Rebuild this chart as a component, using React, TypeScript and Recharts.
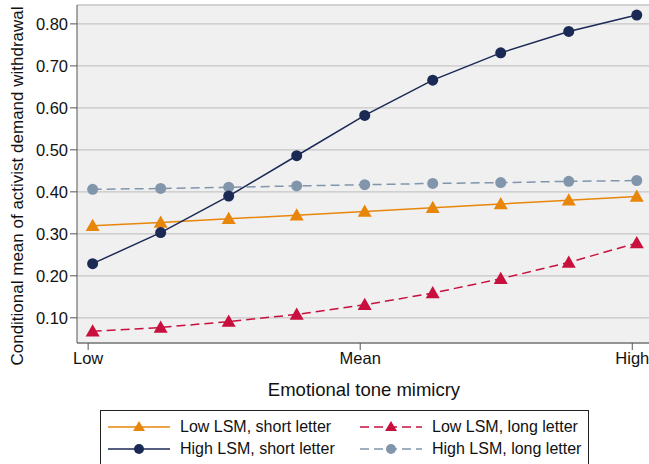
import React from 'react';
import { LineChart, Line, XAxis, YAxis, CartesianGrid } from 'recharts';

// x positions of the nine margin points (Low .. High)
const X_POS = [0, 1, 2, 3, 4, 5, 6, 7, 8];

const LOW_SHORT = [0.319, 0.327, 0.336, 0.344, 0.353, 0.362, 0.371, 0.38, 0.389];
const HIGH_SHORT = [0.229, 0.303, 0.39, 0.486, 0.582, 0.666, 0.731, 0.782, 0.821];
const LOW_LONG = [0.068, 0.077, 0.091, 0.108, 0.131, 0.159, 0.193, 0.232, 0.278];
const HIGH_LONG = [0.406, 0.408, 0.411, 0.414, 0.417, 0.42, 0.422, 0.425, 0.427];

const X_TICKS = [-0.066, 3.934, 7.934];
const X_TICK_LABELS = ['Low', 'Mean', 'High'];
const Y_TICKS = [0.1, 0.2, 0.3, 0.4, 0.5, 0.6, 0.7, 0.8];

const ORANGE = '#e8860c';
const NAVY = '#1b2a55';
const CRIMSON = '#c8103e';
const STEEL = '#8195ab';

const FONT = '"Liberation Sans", Arial, sans-serif';

const data = X_POS.map((x, i) => ({
  x,
  lowShort: LOW_SHORT[i],
  highShort: HIGH_SHORT[i],
  lowLong: LOW_LONG[i],
  highLong: HIGH_LONG[i],
}));

const triangleDot = (color: string) => (props: any) => {
  const { cx, cy, index } = props;
  if (cx == null || cy == null) return <g key={index} />;
  const s = 7;
  return (
    <path
      key={index}
      d={`M${cx},${cy - s} L${cx + s},${cy + s * 0.75} L${cx - s},${cy + s * 0.75} Z`}
      fill={color}
    />
  );
};

const circleDot = (color: string) => (props: any) => {
  const { cx, cy, index } = props;
  if (cx == null || cy == null) return <g key={index} />;
  return <circle key={index} cx={cx} cy={cy} r={5.5} fill={color} />;
};

const LegendItem = ({ color, dashed, tri, label }: { color: string; dashed: boolean; tri: boolean; label: string }) => (
  <div style={{ display: 'flex', alignItems: 'center', height: 22 }}>
    <svg width={62} height={16} style={{ marginRight: 10 }}>
      <line x1={0} y1={8} x2={62} y2={8} stroke={color} strokeWidth={1.5} strokeDasharray={dashed ? '9 5' : undefined} />
      {tri ? (
        <path d="M31,2 L37,12 L25,12 Z" fill={color} />
      ) : (
        <circle cx={31} cy={8} r={5} fill={color} />
      )}
    </svg>
    <span>{label}</span>
  </div>
);

export default function App() {
  return (
    <div style={{ position: 'absolute', left: 0, top: 0, width: 649, height: 464, background: '#fff', overflow: 'hidden', fontFamily: FONT }}>
      <LineChart width={649} height={464} data={data} margin={{ top: 5, right: 0, left: 0, bottom: 81 }}>
        <CartesianGrid vertical={false} fill="#f0f0f0" stroke="#c6c6c6" strokeWidth={1.3} />
        <XAxis
          dataKey="x"
          type="number"
          domain={[-0.23, 8.18]}
          allowDataOverflow
          ticks={X_TICKS}
          tickFormatter={(v: number) => X_TICK_LABELS[X_TICKS.indexOf(v)] ?? ''}
          height={40}
          tickSize={7}
          stroke="#555"
          tick={{ fill: '#111', fontSize: 16.5, fontFamily: FONT }}
        />
        <YAxis
          type="number"
          domain={[0.04, 0.845]}
          allowDataOverflow
          ticks={Y_TICKS}
          tickFormatter={(v: number) => v.toFixed(2)}
          width={77}
          tickSize={7}
          stroke="#555"
          tick={{ fill: '#111', fontSize: 16.5, fontFamily: FONT }}
        />
        <Line dataKey="highLong" stroke={STEEL} strokeWidth={1.5} strokeDasharray="9 5" dot={circleDot(STEEL)} isAnimationActive={false} type="linear" />
        <Line dataKey="lowLong" stroke={CRIMSON} strokeWidth={1.5} strokeDasharray="9 5" dot={triangleDot(CRIMSON)} isAnimationActive={false} type="linear" />
        <Line dataKey="lowShort" stroke={ORANGE} strokeWidth={1.5} dot={triangleDot(ORANGE)} isAnimationActive={false} type="linear" />
        <Line dataKey="highShort" stroke={NAVY} strokeWidth={1.5} dot={circleDot(NAVY)} isAnimationActive={false} type="linear" />
      </LineChart>

      <div
        style={{
          position: 'absolute',
          left: 18 - 200,
          top: 186 - 12,
          width: 400,
          height: 24,
          lineHeight: '24px',
          textAlign: 'center',
          transform: 'rotate(-90deg)',
          fontSize: 17,
          color: '#111',
          whiteSpace: 'nowrap',
        }}
      >
        Conditional mean of activist demand withdrawal
      </div>

      <div style={{ position: 'absolute', left: 164, top: 379, width: 400, textAlign: 'center', fontSize: 18.5, color: '#111' }}>
        Emotional tone mimicry
      </div>

      <div
        style={{
          position: 'absolute',
          left: 100,
          top: 410,
          width: 489,
          height: 70,
          border: '1px solid #222',
          boxSizing: 'border-box',
          padding: '5px 0 0 7px',
          display: 'grid',
          gridTemplateColumns: '252px 230px',
          gridAutoRows: '22px',
          alignContent: 'start',
          fontSize: 16,
          color: '#111',
        }}
      >
        <LegendItem color={ORANGE} dashed={false} tri label="Low LSM, short letter" />
        <LegendItem color={CRIMSON} dashed tri label="Low LSM, long letter" />
        <LegendItem color={NAVY} dashed={false} tri={false} label="High LSM, short letter" />
        <LegendItem color={STEEL} dashed tri={false} label="High LSM, long letter" />
      </div>
    </div>
  );
}
